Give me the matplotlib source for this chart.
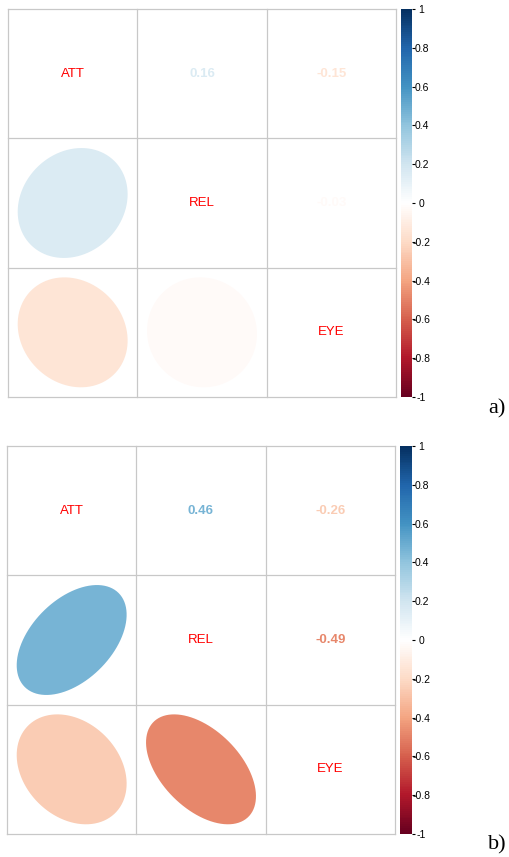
import numpy as np
import matplotlib
matplotlib.use("Agg")
import matplotlib.pyplot as plt
from matplotlib.colors import LinearSegmentedColormap, Normalize
from matplotlib.cm import ScalarMappable
from matplotlib.patches import Polygon

plt.rcParams['font.family'] = ['Liberation Sans', 'DejaVu Sans']

# --- data ---
variables = ['ATT', 'REL', 'EYE']
corr_a = [[1.00, 0.16, -0.15],
          [0.16, 1.00, -0.03],
          [-0.15, -0.03, 1.00]]
corr_b = [[1.00, 0.46, -0.26],
          [0.46, 1.00, -0.49],
          [-0.26, -0.49, 1.00]]
panel_tags = ['a)', 'b)']
cbar_ticks = [1, 0.8, 0.6, 0.4, 0.2, 0, -0.2, -0.4, -0.6, -0.8, -1]

# corrplot RdBu palette
rdbu = ["#67001F", "#B2182B", "#D6604D", "#F4A582", "#FDDBC7", "#FFFFFF",
        "#D1E5F0", "#92C5DE", "#4393C3", "#2166AC", "#053061"]
cmap = LinearSegmentedColormap.from_list('corrplot_rdbu', rdbu, N=200)
norm = Normalize(-1, 1)

W, H = 509, 857
fig = plt.figure(figsize=(W / 100, H / 100), dpi=100)


def px_axes(x0, y0, x1, y1):
    # pixel box (top-left origin) -> figure axes
    return fig.add_axes([x0 / W, 1 - y1 / H, (x1 - x0) / W, (y1 - y0) / H])


def ellipse_pts(rho, n=99):
    # same shape as corrplot's ellipse method
    k = np.linspace(0, 2 * np.pi, n)
    a = np.arccos(rho) / 2
    x = 0.85 * np.cos(k + a) / 2
    y = 0.85 * np.cos(k - a) / 2
    return x, y


def draw_panel(corr, box, cbox, tag, tag_y):
    ax = px_axes(*box)
    n = len(variables)
    ax.set_xlim(0, n)
    ax.set_ylim(n, 0)
    ax.set_axis_off()

    for g in range(n + 1):
        ax.plot([0, n], [g, g], color='#C8C8C8', lw=0.9, clip_on=False, zorder=1)
        ax.plot([g, g], [0, n], color='#C8C8C8', lw=0.9, clip_on=False, zorder=1)

    for i in range(n):
        for j in range(n):
            cx, cy = j + 0.5, i + 0.5
            r = corr[i][j]
            if i == j:
                ax.text(cx, cy, variables[i], color='red', fontsize=9.5,
                        ha='center', va='center', zorder=5)
            elif i > j:
                ex, ey = ellipse_pts(r)
                ax.add_patch(Polygon(np.column_stack([cx + ex, cy - ey]),
                                     closed=True, facecolor=cmap(norm(r)),
                                     edgecolor='none', zorder=3))
            else:
                ax.text(cx, cy, f"{r:.2f}", color=cmap(norm(r)), fontsize=9.5,
                        fontweight='bold', ha='center', va='center', zorder=5)

    cax = px_axes(*cbox)
    cb = fig.colorbar(ScalarMappable(norm=norm, cmap=cmap), cax=cax)
    cb.outline.set_visible(False)
    cb.set_ticks(cbar_ticks)
    cb.set_ticklabels([f"{t:g}" for t in cbar_ticks])
    cax.tick_params(length=2.2, width=0.8, labelsize=7.5, pad=4.6,
                    colors='black')
    for lab in cax.get_yticklabels():
        lab.set_horizontalalignment('center')

    fig.text(497 / W, 1 - tag_y / H, tag, family='Liberation Serif',
             fontsize=16, ha='center', va='center')


draw_panel(corr_a, (8, 9, 396, 397), (401, 9, 412, 397), panel_tags[0], 409)
draw_panel(corr_b, (7, 446, 395, 834), (400, 446, 412, 834), panel_tags[1], 845)

fig.savefig('out.png', dpi=100, facecolor='white')
